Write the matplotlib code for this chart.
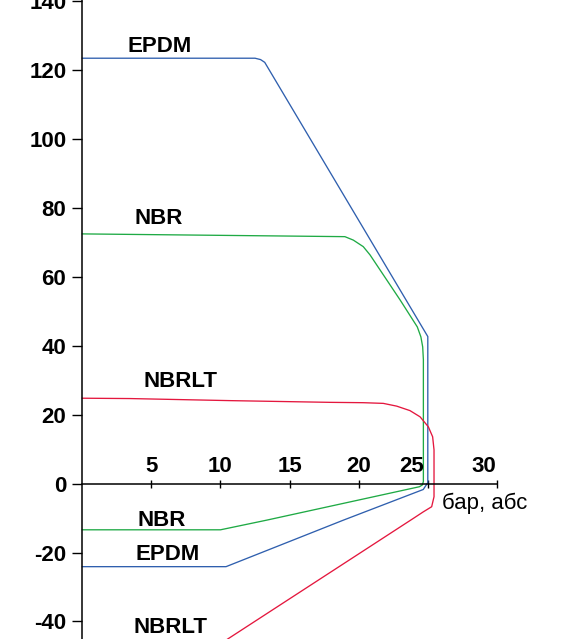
import matplotlib.pyplot as plt

plt.rcParams['font.family'] = ['Liberation Sans', 'DejaVu Sans']
plt.rcParams['axes.unicode_minus'] = False

# pressure (bar abs) vs temperature (deg C), upper branch then lower branch
epdm_p = [0, 12.5, 12.9, 13.2, 25.0, 25.0, 24.67, 18.89, 10.4, 0]
epdm_t = [123.5, 123.5, 123.1, 122.3, 42.7, 0.3, -1.7, -10.6, -24.1, -24.1]

nbr_p = [0, 19.0, 19.61, 20.33, 20.82, 23.0, 24.24, 24.5, 24.63, 24.68, 24.68,
         24.6, 24.39, 13.34, 10.0, 0]
nbr_t = [72.5, 71.7, 70.7, 68.8, 66.4, 53.3, 45.5, 42.6, 39.7, 36.0, 0.6,
         -0.4, -0.9, -10.6, -13.4, -13.4]

nbrlt_p = [0, 3.45, 10.69, 17.92, 20.33, 21.78, 22.75, 23.71, 24.44, 25.04,
           25.35, 25.45, 25.45, 25.28, 24.67, 23.95, 10.6, 10.0]
nbrlt_t = [24.8, 24.7, 24.1, 23.6, 23.5, 23.3, 22.5, 21.2, 19.4, 16.5,
           13.6, 9.8, -3.8, -6.7, -8.2, -10.1, -44.9, -46.5]

x_ticks = [5, 10, 15, 20, 25, 30]
x_label_shift = [0, 0, 0, 0, -11.5, -9.5]  # points, labels nudged off the curves
y_ticks = [-40, -20, 0, 20, 40, 60, 80, 100, 120, 140]

labels = [("EPDM", 5.6, 127.0), ("NBR", 5.55, 76.9), ("NBRLT", 7.1, 29.6),
          ("NBR", 5.75, -10.7), ("EPDM", 6.2, -20.5), ("NBRLT", 6.4, -41.9)]

fig = plt.figure(figsize=(5.66, 6.39), dpi=100)
ax = fig.add_axes([0, 0, 1, 1])
ax.set_xlim(-5.955, 35.0)
ax.set_ylim(-45.1, 140.4)

ax.plot(epdm_p, epdm_t, color="#2f5fae", lw=0.95)
ax.plot(nbr_p, nbr_t, color="#1faa45", lw=0.95)
ax.plot(nbrlt_p, nbrlt_t, color="#e4173e", lw=0.95)

for s in ("right", "bottom"):
    ax.spines[s].set_visible(False)
ax.spines["left"].set_position(("data", 0))
ax.spines["top"].set_position(("data", 0))
ax.spines["top"].set_bounds(0, 30)
for s in ("left", "top"):
    ax.spines[s].set_linewidth(1.1)

ax.xaxis.set_ticks_position("top")
ax.set_xticks(x_ticks)
ax.tick_params(axis="x", direction="inout", length=6, width=1.0, labeltop=False)
for v, dx in zip(x_ticks, x_label_shift):
    ax.annotate(str(v), (v, 0), xytext=(dx, 5), textcoords="offset points",
                ha="center", va="bottom", fontsize=16, fontweight="bold")

ax.set_yticks(y_ticks)
ax.tick_params(axis="y", direction="out", length=7.5, width=1.0, pad=4,
               labelsize=16)
for lab in ax.get_yticklabels():
    lab.set_fontweight("bold")

for txt, x, y in labels:
    ax.text(x, y, txt, ha="center", va="center", fontsize=16, fontweight="bold")

ax.text(29.1, -5.7, "бар, абс", ha="center", va="center", fontsize=16)

fig.savefig("out.png", dpi=100)
